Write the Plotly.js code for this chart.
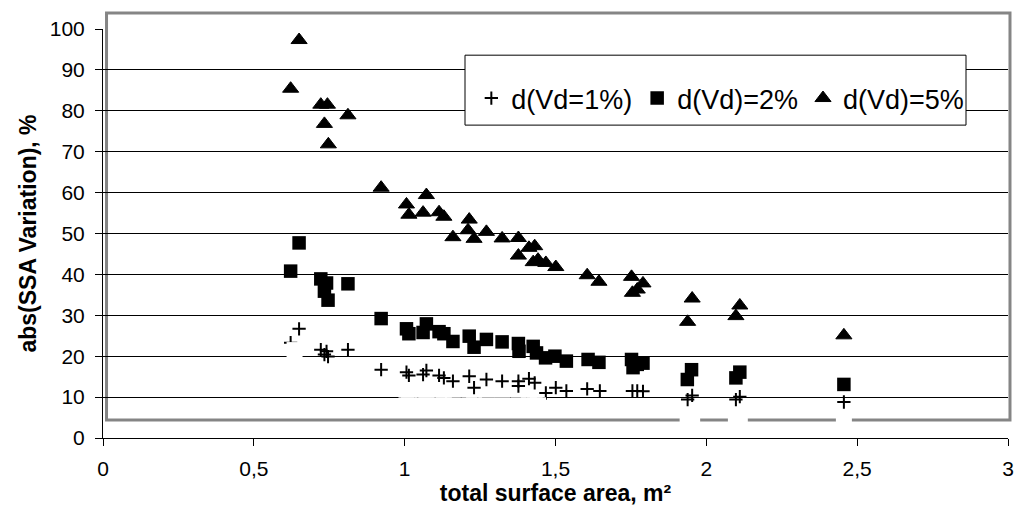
<!DOCTYPE html>
<html>
<head>
<meta charset="utf-8">
<script src="https://cdn.plot.ly/plotly-3.0.1.min.js"></script>
<style>html,body{margin:0;padding:0;background:#fff;}#chart{width:1015px;height:512px;}</style>
</head>
<body>
<div id="chart"></div>
<script>
// d(Vd=1%) series
var plusX = [0.622,0.650,0.722,0.741,0.734,0.746,0.812,0.922,1.006,1.014,1.061,1.072,1.114,1.130,1.160,1.214,1.230,1.271,1.323,1.377,1.377,1.412,1.431,1.468,1.501,1.536,1.605,1.647,1.755,1.771,1.790,1.938,1.953,2.098,2.111,2.456];
var plusY = [23.3,26.7,21.6,21.2,20.4,19.9,21.6,16.7,16.1,15.3,15.5,16.5,15.3,14.7,13.9,15.1,12.3,14.3,13.9,13.9,12.7,14.5,13.5,11.0,12.3,11.5,12.0,11.5,11.5,11.5,11.4,9.4,10.4,9.4,10.1,8.8];
// d(Vd)=2% series
var squareX = [0.622,0.650,0.722,0.741,0.734,0.746,0.812,0.922,1.006,1.014,1.061,1.072,1.114,1.130,1.160,1.214,1.230,1.271,1.323,1.377,1.379,1.426,1.437,1.467,1.498,1.536,1.608,1.644,1.752,1.757,1.771,1.790,1.937,1.951,2.098,2.111,2.456];
var squareY = [40.8,47.7,38.9,37.9,35.9,33.7,37.7,29.2,26.7,25.5,25.8,27.9,26.0,25.5,23.6,24.9,22.2,24.1,23.5,23.1,21.2,22.4,20.8,19.6,20.0,18.8,19.2,18.5,19.2,17.2,18.0,18.3,14.3,16.7,14.7,16.1,13.1];
// d(Vd)=5% series
var triX = [0.622,0.650,0.722,0.744,0.734,0.747,0.812,0.922,1.006,1.014,1.061,1.072,1.114,1.130,1.160,1.210,1.214,1.230,1.271,1.323,1.377,1.377,1.412,1.431,1.426,1.442,1.468,1.501,1.605,1.644,1.752,1.755,1.771,1.790,1.938,1.953,2.098,2.111,2.456];
var triY = [85.4,97.3,81.5,81.5,76.8,71.8,78.9,61.2,57.1,54.6,55.1,59.4,55.2,54.1,49.1,50.8,53.4,48.7,50.4,48.8,48.9,44.6,46.5,46.9,43.0,43.6,42.8,41.8,39.8,38.2,39.4,35.5,36.3,37.8,28.4,34.1,29.8,32.4,25.1];
// hidden (white) series seen as gaps in the grid
var hiddenX = [0.635,1.006,1.014,1.061,1.072,1.114,1.130,1.160,1.214,1.230,1.271,1.323,1.377,1.412,1.431,1.442,1.938,1.953,2.098,2.111,2.456];
var hiddenY = [21.5,8,8,8,8,8,8,8,8,8,8,8,8,8,8,8,4.5,5.2,4.5,5.0,4.4];

var names = ['d(Vd=1%)','d(Vd)=2%','d(Vd)=5%'];
var xTicks = [0,0.5,1,1.5,2,2.5,3];
var xTickText = ['0','0,5','1','1,5','2','2,5','3'];
var yTicks = [0,10,20,30,40,50,60,70,80,90,100];

var FONT = 'Liberation Sans, Arial, sans-serif';

var traces = [
  {x: plusX, y: plusY, name: names[0], type: 'scatter', mode: 'markers', cliponaxis: false,
   marker: {symbol: 'cross-thin', size: 9.5, color: '#000', line: {color: '#000', width: 2}}},
  {x: squareX, y: squareY, name: names[1], type: 'scatter', mode: 'markers', cliponaxis: false,
   marker: {symbol: 'square', size: 13.5, color: '#000', line: {width: 0}}},
  {x: triX, y: triY, name: names[2], type: 'scatter', mode: 'markers', cliponaxis: false,
   marker: {symbol: 'triangle-up', size: 14, color: '#000', line: {color: '#000', width: 1}}},
  {x: hiddenX, y: hiddenY, showlegend: false, hoverinfo: 'skip', type: 'scatter', mode: 'markers', cliponaxis: false,
   marker: {symbol: 'square', size: 16, color: '#fff', line: {width: 0}}}
];

var layout = {
  width: 1015, height: 512,
  margin: {l: 103, r: 7, t: 29, b: 74, pad: 0},
  paper_bgcolor: '#fff', plot_bgcolor: 'rgba(0,0,0,0)',
  font: {family: FONT, size: 21, color: '#000'},
  showlegend: true,
  legend: {orientation: 'h', x: 0.407, y: 0.89, xanchor: 'left', yanchor: 'top',
           bgcolor: 'rgba(0,0,0,0)', borderwidth: 0, font: {family: FONT, size: 27, color: '#000'},
           traceorder: 'normal'},
  xaxis: {range: [0, 3], tickvals: xTicks, ticktext: xTickText, showgrid: false, zeroline: false,
          showline: true, linecolor: '#000', linewidth: 1, ticks: 'outside', ticklen: 7, tickcolor: '#000',
          tickfont: {family: FONT, size: 21}, ticklabelstandoff: 5,
          title: {text: '<b>total surface area, m²</b>', font: {family: FONT, size: 23}, standoff: 2}},
  yaxis: {range: [0, 100], tickvals: yTicks, showgrid: true, gridcolor: '#000', gridwidth: 1, zeroline: false,
          showline: true, linecolor: '#000', linewidth: 1, ticks: 'outside', ticklen: 7, tickcolor: '#000',
          tickfont: {family: FONT, size: 21}, ticklabelstandoff: 6,
          title: {text: '<b>abs(SSA Variation), %</b>', font: {family: FONT, size: 23}, standoff: 6}},
  shapes: [
    {type: 'rect', xref: 'paper', yref: 'paper', x0: 0.0039, x1: 1.0022, y0: 0.044, y1: 1.039,
     line: {color: '#858585', width: 3}, fillcolor: 'rgba(0,0,0,0)', layer: 'below'},
    {type: 'rect', xref: 'paper', yref: 'paper', x0: 0.400, x1: 0.9536, y0: 0.765, y1: 0.936,
     line: {color: '#000', width: 1}, fillcolor: '#fff', layer: 'above'}
  ]
};

Plotly.newPlot('chart', traces, layout, {displayModeBar: false, staticPlot: true});
</script>
</body>
</html>
